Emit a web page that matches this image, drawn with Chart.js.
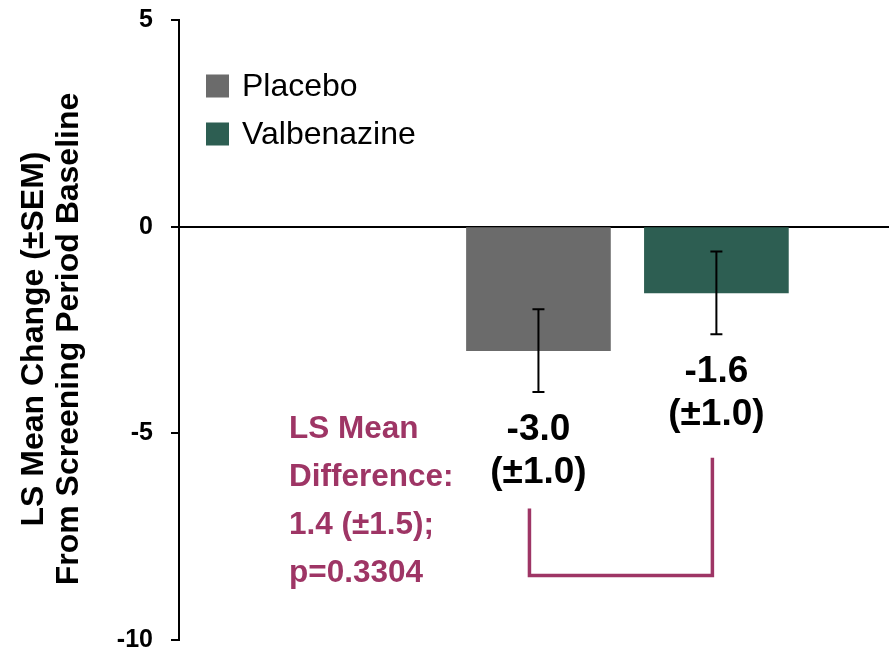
<!DOCTYPE html>
<html>
<head>
<meta charset="utf-8">
<script src="https://cdn.jsdelivr.net/npm/chart.js@4.4.1/dist/chart.umd.min.js"></script>
<style>
  html, body { margin: 0; padding: 0; background: #fff; }
  #wrap { width: 889px; height: 650px; position: relative; }
</style>
</head>
<body>
<div id="wrap"><canvas id="c" width="889" height="650"></canvas></div>
<script>
// ---- data ----
const categories = ['Placebo', 'Valbenazine'];
const lsMeans = [-3.0, -1.6];
const sems = [1.0, 1.0];
const barColors = ['#6b6b6b', '#2d5e52'];
const yTicks = [5, 0, -5, -10];
const yTitle = ['LS Mean Change (±SEM)', 'From Screening Period Baseline'];
const diffText = ['LS Mean', 'Difference:', '1.4 (±1.5);', 'p=0.3304'];

const FONT = '"Liberation Sans", Arial, Helvetica, sans-serif';
const PURPLE = '#9e3565';

const datasets = categories.map((name, i) => ({
  label: name,
  data: [{ x: i + 1, y: lsMeans[i] }],
  backgroundColor: barColors[i],
  borderWidth: 0,
  barThickness: 144,
  grouped: false
}));

const overlay = {
  id: 'overlay',
  afterDatasetsDraw(chart) {
    const ctx = chart.ctx;
    const ys = chart.scales.y;
    const area = chart.chartArea;
    const centers = [];
    ctx.save();
    // y-axis title
    ctx.fillStyle = '#000';
    ctx.font = 'bold 32px ' + FONT;
    ctx.textAlign = 'center';
    ctx.textBaseline = 'alphabetic';
    const midY = (area.top + area.bottom) / 2 + 9;
    yTitle.forEach((t, k) => {
      ctx.save();
      ctx.translate(43 + k * 35, midY);
      ctx.rotate(-Math.PI / 2);
      ctx.fillText(t, 0, 0);
      ctx.restore();
    });
    // error bars
    chart.data.datasets.forEach((ds, i) => {
      const bar = chart.getDatasetMeta(i).data[0];
      const x = bar.x;
      centers.push(x);
      const yTop = ys.getPixelForValue(lsMeans[i] + sems[i]);
      const yBot = ys.getPixelForValue(lsMeans[i] - sems[i]);
      ctx.strokeStyle = '#000';
      ctx.lineWidth = 2;
      ctx.beginPath();
      ctx.moveTo(x, yTop); ctx.lineTo(x, yBot);
      ctx.moveTo(x - 6, yTop); ctx.lineTo(x + 6, yTop);
      ctx.moveTo(x - 6, yBot); ctx.lineTo(x + 6, yBot);
      ctx.stroke();
      // value labels
      ctx.fillStyle = '#000';
      ctx.font = 'bold 37px ' + FONT;
      ctx.textAlign = 'center';
      ctx.textBaseline = 'alphabetic';
      const base = yBot + 48;
      ctx.fillText(lsMeans[i].toFixed(1), x, base);
      ctx.fillText('(±' + sems[i].toFixed(1) + ')', x, base + 43);
    });
    // legend
    ctx.font = '32px ' + FONT;
    ctx.textAlign = 'left';
    ctx.textBaseline = 'middle';
    chart.data.datasets.forEach((ds, i) => {
      const cy = area.top + 66 + i * 48;
      ctx.fillStyle = ds.backgroundColor;
      ctx.fillRect(area.left + 27, cy - 11.5, 23, 23);
      ctx.fillStyle = '#000';
      ctx.fillText(ds.label, area.left + 63, cy + 1);
    });
    // LS mean difference text
    ctx.fillStyle = PURPLE;
    ctx.font = 'bold 31.5px ' + FONT;
    ctx.textBaseline = 'alphabetic';
    const y5 = ys.getPixelForValue(-5);
    diffText.forEach((t, k) => {
      ctx.fillText(t, area.left + 110, y5 + 5 + k * 48);
    });
    // bracket
    const leftX = centers[0] - 9;
    const rightX = centers[1] - 4;
    const bottomY = ys.getPixelForValue(-8.44);
    ctx.strokeStyle = PURPLE;
    ctx.lineWidth = 3.5;
    ctx.lineJoin = 'miter';
    ctx.beginPath();
    ctx.moveTo(leftX, ys.getPixelForValue(-6.82));
    ctx.lineTo(leftX, bottomY);
    ctx.lineTo(rightX, bottomY);
    ctx.lineTo(rightX, ys.getPixelForValue(-5.59));
    ctx.stroke();
    ctx.restore();
  }
};

new Chart(document.getElementById('c'), {
  type: 'bar',
  data: { datasets },
  plugins: [overlay],
  options: {
    responsive: false,
    animation: false,
    events: [],
    layout: { padding: { top: 20, bottom: 10, left: 0, right: 0 } },
    plugins: { legend: { display: false }, tooltip: { enabled: false } },
    scales: {
      x: {
        type: 'linear',
        display: false,
        offset: false,
        min: -1.02,
        max: 2.97
      },
      y: {
        min: Math.min(...yTicks),
        max: Math.max(...yTicks),
        afterBuildTicks(scale) { scale.ticks = yTicks.map(v => ({ value: v })); },
        afterFit(scale) {
          scale.width = 179;
          scale.paddingTop = 0;
          scale.paddingBottom = 0;
        },
        ticks: {
          color: '#000',
          padding: 18,
          font: { family: FONT, size: 25, weight: 'bold', lineHeight: 1 }
        },
        grid: {
          drawOnChartArea: true,
          color: (c) => (c.tick && c.tick.value === 0 ? '#000' : 'rgba(0,0,0,0)'),
          lineWidth: 2,
          tickColor: '#000',
          tickLength: 8,
          tickWidth: 2
        },
        border: { display: true, color: '#000', width: 2 },
        title: { display: false }
      }
    }
  }
});
</script>
</body>
</html>
